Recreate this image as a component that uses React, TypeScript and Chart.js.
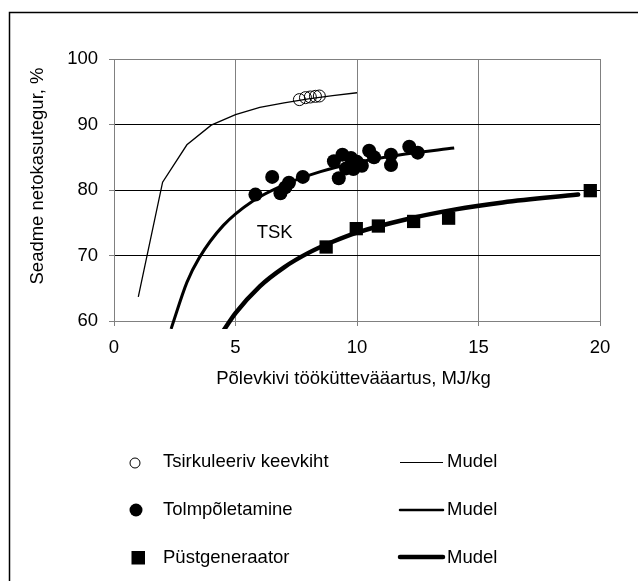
import React, { useEffect, useRef } from "react";
import { Chart, registerables } from "chart.js";

Chart.register(...registerables);

// ---- data ----
const cfbDataX = [7.63, 7.88, 8.08, 8.29, 8.45];
const cfbDataY = [93.8, 94.1, 94.2, 94.3, 94.35];
const cfbModelX = [1, 2, 3, 4, 5, 6, 7, 8, 9, 10];
const cfbModelY = [63.7, 81.2, 86.9, 89.9, 91.5, 92.6, 93.3, 93.9, 94.4, 94.85];

const pulvDataX = [5.82, 6.51, 6.85, 7.05, 7.2, 7.77, 9.05, 9.25, 9.4, 9.55, 9.75, 9.85, 10.0, 10.2, 10.5, 10.7, 11.4, 11.4, 12.15, 12.5];
const pulvDataY = [79.3, 82.0, 79.5, 80.4, 81.1, 82.0, 84.4, 81.8, 85.4, 83.3, 84.9, 83.2, 84.3, 83.7, 86.0, 85.0, 85.4, 83.8, 86.6, 85.7];
const pulvModelX = [2.35, 3, 3.5, 4.5, 5.7, 7, 8.5, 10, 12, 14];
const pulvModelY = [58.8, 65.9, 69.6, 74.6, 78.3, 80.8, 82.8, 84.2, 85.5, 86.4];

const shaftDataX = [8.73, 9.97, 10.88, 12.33, 13.77, 19.6];
const shaftDataY = [71.3, 74.1, 74.5, 75.2, 75.7, 79.9];
const shaftModelX = [4.5, 5, 6, 7, 8, 9, 10, 12, 14, 16, 19.1];
const shaftModelY = [58.5, 61.2, 65.3, 68.2, 70.4, 72.1, 73.5, 75.5, 77.0, 78.1, 79.3];

const xTicks = [0, 5, 10, 15, 20];
const yTicks = [60, 70, 80, 90, 100];

const seriesLabels = ["Tsirkuleeriv keevkiht", "Tolmpõletamine", "Püstgeneraator"];
const modelLabel = "Mudel";
const xTitle = "Põlevkivi tööküttevääartus, MJ/kg";
const yTitle = "Seadme netokasutegur, %";
const noteText = "TSK";
const noteX = 5.87;
const noteY = 72.6;

// ---- styling ----
const FAMILY = '"Liberation Sans", Arial, Helvetica, sans-serif';
const FSIZE = 18.5;
const FONT = `${FSIZE}px ${FAMILY}`;
const GRAY = "#808080";

const pts = (xs: number[], ys: number[]) => xs.map((x, i) => ({ x, y: ys[i] }));

const overlayPlugin = {
  id: "overlay",
  beforeDraw(chart: any) {
    const ctx = chart.ctx;
    ctx.save();
    ctx.fillStyle = "#fff";
    ctx.fillRect(0, 0, chart.width, chart.height);
    ctx.restore();
  },
  afterDraw(chart: any) {
    const ctx = chart.ctx;
    const xs = chart.scales.x;
    const ys = chart.scales.y;
    ctx.save();
    // outer frame
    ctx.strokeStyle = "#000";
    ctx.lineWidth = 1.5;
    ctx.beginPath();
    ctx.moveTo(9.5, chart.height);
    ctx.lineTo(9.5, 12.5);
    ctx.lineTo(chart.width, 12.5);
    ctx.stroke();

    ctx.fillStyle = "#000";
    ctx.font = FONT;
    ctx.textBaseline = "alphabetic";

    // annotation
    ctx.textAlign = "left";
    ctx.fillText(noteText, xs.getPixelForValue(noteX), ys.getPixelForValue(noteY));

    // axis titles
    ctx.textAlign = "center";
    ctx.fillText(xTitle, 353.5, 384);
    ctx.save();
    ctx.translate(43, 176);
    ctx.rotate(-Math.PI / 2);
    ctx.fillText(yTitle, 0, 0);
    ctx.restore();

    // legend
    const rows = [462.5, 510, 557];
    const baselines = [467, 515, 563];
    const widths = [1, 2.5, 4.5];
    rows.forEach((ry, i) => {
      ctx.fillStyle = "#000";
      ctx.strokeStyle = "#000";
      if (i === 0) {
        ctx.lineWidth = 1;
        ctx.beginPath();
        ctx.arc(135, ry + 0.5, 5, 0, Math.PI * 2);
        ctx.stroke();
      } else if (i === 1) {
        ctx.beginPath();
        ctx.arc(136, ry, 6.5, 0, Math.PI * 2);
        ctx.fill();
      } else {
        ctx.fillRect(131.5, ry - 6, 13.5, 13.5);
      }
      ctx.textAlign = "left";
      ctx.fillText(seriesLabels[i], 163, baselines[i]);
      ctx.lineWidth = widths[i];
      ctx.lineCap = i === 0 ? "butt" : "round";
      ctx.beginPath();
      ctx.moveTo(400, ry);
      ctx.lineTo(443, ry);
      ctx.stroke();
      ctx.fillText(modelLabel, 447, baselines[i]);
    });
    ctx.restore();
  },
};

export default function App() {
  const ref = useRef<HTMLCanvasElement | null>(null);

  useEffect(() => {
    if (!ref.current) return;
    const chart = new Chart(ref.current, {
      type: "scatter",
      data: {
        datasets: [
          {
            label: seriesLabels[0] + " " + modelLabel,
            data: pts(cfbModelX, cfbModelY),
            showLine: true,
            borderColor: "#000",
            borderWidth: 1.3,
            pointRadius: 0,
            tension: 0,
            clip: { left: 0, top: 0, right: 0, bottom: 8 } as any,
          },
          {
            label: seriesLabels[1] + " " + modelLabel,
            data: pts(pulvModelX, pulvModelY),
            showLine: true,
            borderColor: "#000",
            borderWidth: 3,
            pointRadius: 0,
            cubicInterpolationMode: "monotone",
            clip: { left: 0, top: 0, right: 0, bottom: 8 } as any,
          },
          {
            label: seriesLabels[2] + " " + modelLabel,
            data: pts(shaftModelX, shaftModelY),
            showLine: true,
            borderColor: "#000",
            borderWidth: 4.5,
            borderCapStyle: "round",
            pointRadius: 0,
            cubicInterpolationMode: "monotone",
            clip: { left: 0, top: 0, right: 0, bottom: 8 } as any,
          },
          {
            label: seriesLabels[0],
            data: pts(cfbDataX, cfbDataY),
            pointStyle: "circle",
            pointRadius: 6,
            pointBorderWidth: 1,
            pointBorderColor: "#000",
            pointBackgroundColor: "rgba(0,0,0,0)",
          },
          {
            label: seriesLabels[1],
            data: pts(pulvDataX, pulvDataY),
            pointStyle: "circle",
            pointRadius: 7,
            pointBorderWidth: 0,
            pointBackgroundColor: "#000",
            pointBorderColor: "#000",
          },
          {
            label: seriesLabels[2],
            data: pts(shaftDataX, shaftDataY),
            pointStyle: "rect",
            pointRadius: 9.4,
            pointBorderWidth: 0,
            pointBackgroundColor: "#000",
            pointBorderColor: "#000",
          },
        ],
      },
      options: {
        responsive: false,
        animation: false,
        devicePixelRatio: 1,
        layout: { padding: { left: 0, top: 59, right: 38, bottom: 0 } },
        plugins: {
          legend: { display: false },
          tooltip: { enabled: false },
          title: { display: false },
        },
        scales: {
          x: {
            type: "linear",
            min: 0,
            max: 20,
            afterBuildTicks: (s: any) => {
              s.ticks = xTicks.map((v) => ({ value: v }));
            },
            afterFit: (s: any) => {
              s.height = 260;
            },
            ticks: {
              color: "#000",
              font: { family: FAMILY, size: FSIZE },
              padding: 11,
              maxRotation: 0,
            },
            grid: {
              color: GRAY,
              lineWidth: 1,
              tickLength: 5,
              tickColor: GRAY,
            },
            border: { display: true, color: GRAY, width: 1 },
          },
          y: {
            type: "linear",
            min: 60,
            max: 100,
            afterBuildTicks: (s: any) => {
              s.ticks = yTicks.map((v) => ({ value: v }));
            },
            afterFit: (s: any) => {
              s.width = 114;
            },
            ticks: {
              color: "#000",
              font: { family: FAMILY, size: FSIZE },
              padding: 11,
            },
            grid: {
              color: (c: any) =>
                c.tick && (c.tick.value === 60 || c.tick.value === 100) ? GRAY : "#000",
              lineWidth: 1,
              tickLength: 5,
              tickColor: GRAY,
            },
            border: { display: true, color: GRAY, width: 1 },
          },
        },
      },
      plugins: [overlayPlugin],
    });
    return () => chart.destroy();
  }, []);

  return (
    <div style={{ position: "fixed", left: 0, top: 0, width: 638, height: 581 }}>
      <canvas ref={ref} width={638} height={581} style={{ display: "block" }} />
    </div>
  );
}
